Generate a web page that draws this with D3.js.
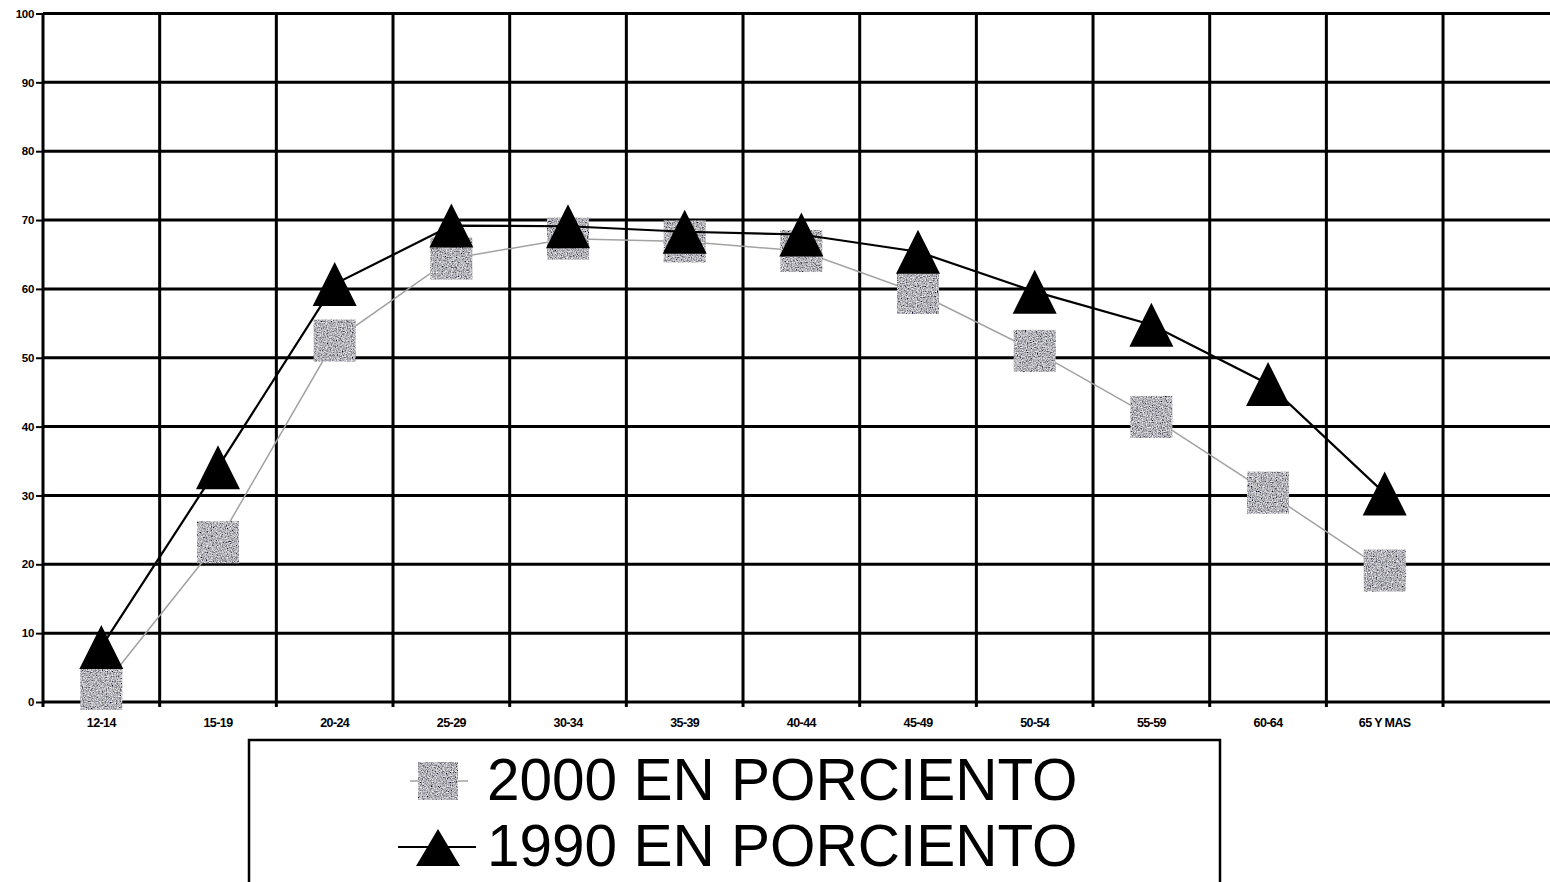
<!DOCTYPE html>
<html>
<head>
<meta charset="utf-8">
<script src="https://cdn.jsdelivr.net/npm/d3@7"></script>
<style>
  html, body { margin: 0; padding: 0; background: #fff; overflow: hidden; }
  svg { display: block; }
</style>
</head>
<body>
<svg id="chart" width="1550" height="882"></svg>
<script>
// ---- data ----
const categories = ["12-14", "15-19", "20-24", "25-29", "30-34", "35-39", "40-44", "45-49", "50-54", "55-59", "60-64", "65 Y MAS"];
const values2000 = [1.9, 23.2, 52.5, 64.4, 67.3, 66.9, 65.5, 59.4, 51.0, 41.4, 30.4, 19.1];
const values1990 = [8.0, 34.1, 60.7, 69.2, 69.1, 68.3, 67.9, 65.4, 59.6, 54.8, 46.2, 30.3];
const yTicks = [0, 10, 20, 30, 40, 50, 60, 70, 80, 90, 100];
const legendLabels = ["2000 EN PORCIENTO", "1990 EN PORCIENTO"];

// ---- layout ----
const svg = d3.select("#chart");
const plotLeft = 43, plotTop = 13.5, plotBottom = 702;
const band = 116.67;
const x = d3.scaleBand().domain(categories).range([plotLeft, plotLeft + band * categories.length]).padding(0);
const plotRight = plotLeft + band * (categories.length + 1); // one extra empty band (cropped)
const y = d3.scaleLinear().domain([0, 100]).range([plotBottom, plotTop]);

// texture filter for the grey squares
const defs = svg.append("defs");
const f = defs.append("filter").attr("id", "grain").attr("x", "0").attr("y", "0").attr("width", "1").attr("height", "1");
f.append("feTurbulence").attr("type", "fractalNoise").attr("baseFrequency", "0.8").attr("numOctaves", 2).attr("seed", 5).attr("result", "noise");
f.append("feColorMatrix").attr("in", "noise").attr("type", "matrix")
  .attr("values", "1.5 0 0 0 -0.3  1.5 0 0 0 -0.3  1.5 0 0 0 -0.27  0 0 0 0 1").attr("result", "grey");
f.append("feComposite").attr("in", "grey").attr("in2", "SourceGraphic").attr("operator", "in");

// ---- grid ----
const grid = svg.append("g");
yTicks.forEach(t => {
  grid.append("line").attr("x1", plotLeft).attr("x2", 1560).attr("y1", y(t)).attr("y2", y(t))
    .attr("stroke", "#000").attr("stroke-width", 3);
});
const vlines = categories.map(c => x(c)).concat([x(categories[categories.length - 1]) + band, plotRight]);
vlines.forEach(v => {
  grid.append("line").attr("x1", v).attr("x2", v).attr("y1", plotTop).attr("y2", plotBottom + 5)
    .attr("stroke", "#000").attr("stroke-width", 3);
});

// ---- axes ----
const yAxis = svg.append("g").attr("transform", `translate(${plotLeft},0)`)
  .call(d3.axisLeft(y).tickValues(yTicks).tickSize(7).tickPadding(2).tickFormat(d3.format("d")));
yAxis.select(".domain").remove();
yAxis.selectAll(".tick line").attr("stroke", "#000").attr("stroke-width", 2);
yAxis.selectAll("text").attr("font-family", "'Liberation Sans', Arial, sans-serif")
  .attr("font-size", 11.5).attr("font-weight", "bold").attr("letter-spacing", "-0.3").attr("fill", "#000");

const xAxis = svg.append("g").attr("transform", `translate(0,${plotBottom})`)
  .call(d3.axisBottom(x).tickSize(0).tickPadding(16));
xAxis.select(".domain").remove();
xAxis.selectAll("text").attr("font-family", "'Liberation Sans', Arial, sans-serif")
  .attr("font-size", 12.5).attr("font-weight", "bold").attr("letter-spacing", "-0.6").attr("fill", "#000");

// ---- series ----
const cx = c => x(c) + x.bandwidth() / 2;
const line = d3.line();
const pts2000 = categories.map((c, i) => [cx(c), y(values2000[i])]);
const pts1990 = categories.map((c, i) => [cx(c), y(values1990[i])]);

const sq = 21, tri = 22;
const trianglePath = `M0,${-tri}L${tri},${tri}L${-tri},${tri}Z`;

svg.append("path").attr("d", line(pts2000)).attr("fill", "none").attr("stroke", "#a2a2a2").attr("stroke-width", 1.5);
svg.append("g").selectAll("rect").data(pts2000).join("rect")
  .attr("x", d => d[0] - sq).attr("y", d => d[1] - sq).attr("width", sq * 2).attr("height", sq * 2)
  .attr("fill", "#8a8a8c").attr("filter", "url(#grain)");

svg.append("path").attr("d", line(pts1990)).attr("fill", "none").attr("stroke", "#000").attr("stroke-width", 2.2);
svg.append("g").selectAll("path").data(pts1990).join("path")
  .attr("transform", d => `translate(${d[0]},${d[1]})`).attr("d", trianglePath).attr("fill", "#000");

// ---- legend ----
const lg = svg.append("g");
lg.append("rect").attr("x", 249).attr("y", 740).attr("width", 971).attr("height", 160)
  .attr("fill", "#fff").attr("stroke", "#000").attr("stroke-width", 2.5);
const lx = 438;
// 2000 entry
lg.append("line").attr("x1", 410).attr("x2", 468).attr("y1", 781).attr("y2", 781).attr("stroke", "#a2a2a2").attr("stroke-width", 1.5);
lg.append("rect").attr("x", lx - 20).attr("y", 762).attr("width", 40).attr("height", 38)
  .attr("fill", "#8a8a8c").attr("filter", "url(#grain)");
// 1990 entry
lg.append("line").attr("x1", 398).attr("x2", 476).attr("y1", 847).attr("y2", 847).attr("stroke", "#000").attr("stroke-width", 2.2);
lg.append("path").attr("transform", `translate(${lx},848)`).attr("d", "M0,-19L22,18L-22,18Z").attr("fill", "#000");

lg.selectAll("text").data(legendLabels).join("text")
  .attr("x", 487).attr("y", (d, i) => 800 + i * 66)
  .attr("font-family", "'Liberation Sans', Arial, sans-serif").attr("font-size", 58.5)
  .attr("letter-spacing", "0").attr("fill", "#000").text(d => d);
</script>
</body>
</html>
